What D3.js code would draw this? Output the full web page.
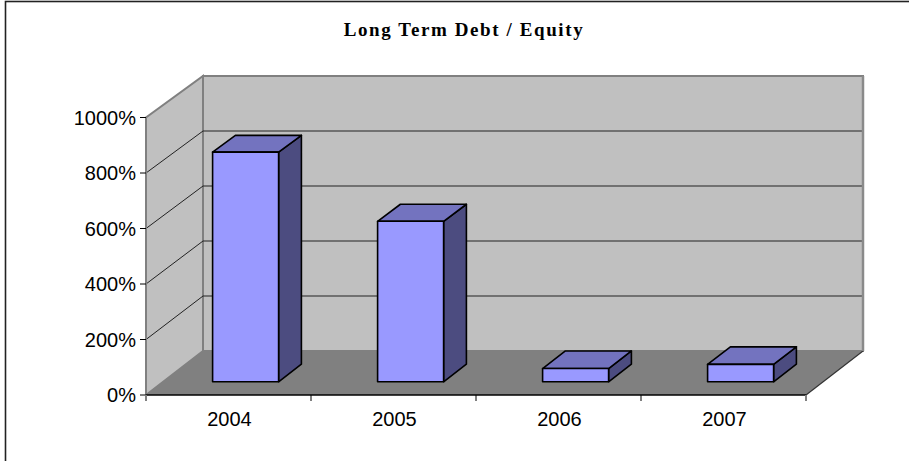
<!DOCTYPE html>
<html>
<head>
<meta charset="utf-8">
<script src="https://cdn.jsdelivr.net/npm/d3@7"></script>
<style>
  html, body { margin: 0; padding: 0; background: #fff; }
  svg { display: block; }
</style>
</head>
<body>
<svg id="chart" width="909" height="461"></svg>
<script>
// Long term debt to equity ratio, percent
const categories = ["2004", "2005", "2006", "2007"];
const ratioValues = [830, 580, 48, 63];
const tickValues = [0, 200, 400, 600, 800, 1000];
const tickLabels = ["0%", "200%", "400%", "600%", "800%", "1000%"];
const chartTitle = "Long Term Debt / Equity";

const svg = d3.select("#chart");

// Front plane of the 3D box and the depth offset of the back wall
const front = { left: 146, right: 806 };
const DX = 57;
const yFront = d3.scaleLinear().domain([0, 1000]).range([395, 117.5]);
const yBack = d3.scaleLinear().domain([0, 1000]).range([351, 76]);
const x = d3.scaleBand().domain(categories).range([front.left, front.right])
  .paddingInner(0.6).paddingOuter(0.3);
const xCat = d3.scaleBand().domain(categories).range([front.left, front.right]).padding(0);

// project (front-plane x, value, depth 0..1) to screen
function P(px, v, z) {
  return [px + z * DX, (1 - z) * yFront(v) + z * yBack(v)];
}
const poly = pts => "M" + pts.map(p => p.join(",")).join("L") + "Z";

// outer frame
svg.append("rect").attr("x", 5.5).attr("y", 1.5).attr("width", 940).attr("height", 500)
  .attr("fill", "none").attr("stroke", "#222").attr("stroke-width", 1.6);

// title
svg.append("text").attr("x", 464).attr("y", 36).attr("text-anchor", "middle")
  .attr("font-family", "'Liberation Serif', 'Times New Roman', serif")
  .attr("font-weight", "bold").attr("font-size", 19).attr("letter-spacing", 1.6)
  .attr("fill", "#000").text(chartTitle);

const vMax = 1000;
// back wall
svg.append("path")
  .attr("d", poly([P(front.left, 0, 1), P(front.right, 0, 1), P(front.right, vMax, 1), P(front.left, vMax, 1)]))
  .attr("fill", "#c0c0c0").attr("stroke", "#808080").attr("stroke-width", 2);
// side wall
svg.append("path")
  .attr("d", poly([P(front.left, 0, 0), P(front.left, 0, 1), P(front.left, vMax, 1), P(front.left, vMax, 0)]))
  .attr("fill", "#c0c0c0").attr("stroke", "#808080").attr("stroke-width", 2);

// gridlines on the back and side walls
const grid = svg.append("g");
tickValues.filter(v => v > 0 && v < vMax).forEach(v => {
  const a = P(front.left, v, 0), b = P(front.left, v, 1), c = P(front.right, v, 1);
  grid.append("path").attr("d", `M${a}L${b}L${c}`)
    .attr("fill", "none").attr("stroke", "#222").attr("stroke-width", 1);
});

// floor
svg.append("path")
  .attr("d", poly([P(front.left, 0, 0), P(front.right, 0, 0), P(front.right, 0, 1), P(front.left, 0, 1)]))
  .attr("fill", "#808080").attr("stroke", "none");
svg.append("path")
  .attr("d", `M${P(front.right, 0, 0)}L${P(front.right, 0, 1)}`)
  .attr("stroke", "#333").attr("stroke-width", 1.2);
// back-right edge drawn over floor
svg.append("path")
  .attr("d", `M${P(front.right, 0, 1)}L${P(front.right, vMax, 1)}`)
  .attr("stroke", "#8a8a8a").attr("stroke-width", 2.5);

// bars
const z0 = 0.3, z1 = 0.7;
const bars = svg.append("g").attr("stroke", "#000").attr("stroke-width", 1.6)
  .attr("stroke-linejoin", "round");
categories.forEach((c, i) => {
  const v = ratioValues[i];
  const x0 = x(c), x1 = x0 + x.bandwidth();
  bars.append("path")
    .attr("d", poly([P(x1, 0, z0), P(x1, 0, z1), P(x1, v, z1), P(x1, v, z0)]))
    .attr("fill", "#4c4c80");
  bars.append("path")
    .attr("d", poly([P(x0, v, z0), P(x1, v, z0), P(x1, v, z1), P(x0, v, z1)]))
    .attr("fill", "#7373bf");
  bars.append("path")
    .attr("d", poly([P(x0, 0, z0), P(x1, 0, z0), P(x1, v, z0), P(x0, v, z0)]))
    .attr("fill", "#9999ff");
});

// value axis on the front-left edge
const yAxis = svg.append("g");
yAxis.append("line").attr("x1", front.left).attr("x2", front.left)
  .attr("y1", yFront(0)).attr("y2", yFront(vMax))
  .attr("stroke", "#808080").attr("stroke-width", 2);
tickValues.forEach((v, i) => {
  yAxis.append("line").attr("x1", front.left - 6).attr("x2", front.left)
    .attr("y1", yFront(v)).attr("y2", yFront(v)).attr("stroke", "#000").attr("stroke-width", 1);
  yAxis.append("text").attr("x", front.left - 10).attr("y", yFront(v))
    .attr("dy", "0.36em").attr("text-anchor", "end")
    .attr("font-family", "'Liberation Sans', Arial, sans-serif").attr("font-size", 20)
    .attr("fill", "#000").text(tickLabels[i]);
});

// category axis on the front edge of the floor
const xAxis = svg.append("g");
xAxis.append("line").attr("x1", front.left).attr("x2", front.right)
  .attr("y1", yFront(0)).attr("y2", yFront(0)).attr("stroke", "#000").attr("stroke-width", 1.5);
const bounds = categories.map(c => xCat(c)).concat([front.right]);
bounds.forEach((bx, i) => {
  xAxis.append("line").attr("x1", bx).attr("x2", bx)
    .attr("y1", yFront(0)).attr("y2", yFront(0) + 6)
    .attr("stroke", (i === 0 || i === bounds.length - 1) ? "#808080" : "#000")
    .attr("stroke-width", (i === 0 || i === bounds.length - 1) ? 2 : 1);
});
categories.forEach(c => {
  xAxis.append("text").attr("x", xCat(c) + xCat.bandwidth() / 2 + 1).attr("y", 426)
    .attr("text-anchor", "middle")
    .attr("font-family", "'Liberation Sans', Arial, sans-serif").attr("font-size", 20)
    .attr("fill", "#000").text(c);
});
</script>
</body>
</html>
